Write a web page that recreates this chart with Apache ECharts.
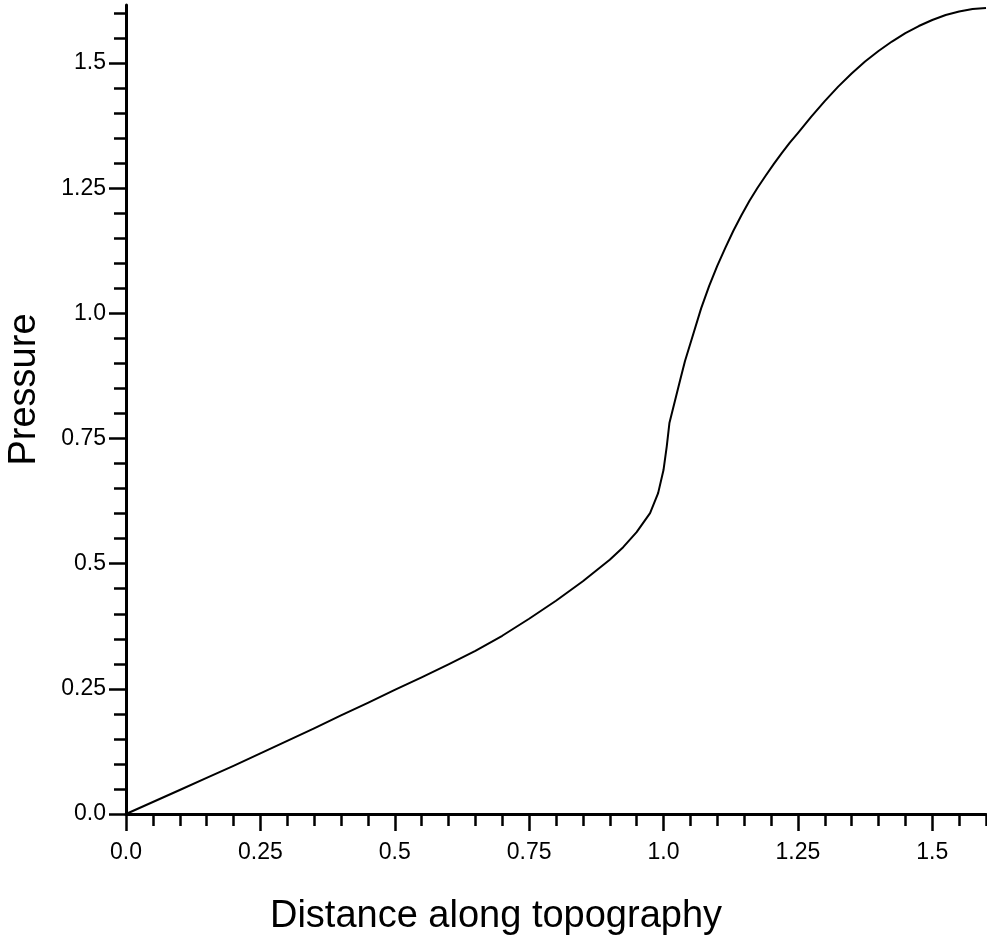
<!DOCTYPE html>
<html>
<head>
<meta charset="utf-8">
<script src="https://cdn.jsdelivr.net/npm/echarts@6/dist/echarts.min.js"></script>
<style>html,body{margin:0;padding:0;background:#fff}#c{width:987px;height:938px}</style>
</head>
<body>
<div id="c"></div>
<script>
// ---- data ----
const distance = [0, 0.05, 0.1, 0.15, 0.2, 0.25, 0.3, 0.35, 0.4, 0.45, 0.5, 0.55, 0.6, 0.65, 0.7, 0.75, 0.8, 0.85, 0.9, 0.925, 0.95, 0.975, 0.99, 1.0, 1.006, 1.011, 1.021, 1.031, 1.04, 1.05, 1.07, 1.085, 1.1, 1.115, 1.13, 1.145, 1.16, 1.175, 1.19, 1.205, 1.22, 1.235, 1.25, 1.275, 1.3, 1.325, 1.35, 1.375, 1.4, 1.425, 1.45, 1.475, 1.5, 1.525, 1.55, 1.575, 1.6];
const pressure = [0, 0.024, 0.048, 0.072, 0.096, 0.121, 0.146, 0.171, 0.197, 0.222, 0.248, 0.273, 0.299, 0.326, 0.356, 0.39, 0.426, 0.465, 0.508, 0.533, 0.563, 0.601, 0.641, 0.687, 0.734, 0.781, 0.824, 0.867, 0.905, 0.94, 1.01, 1.055, 1.095, 1.131, 1.165, 1.196, 1.225, 1.251, 1.275, 1.298, 1.32, 1.341, 1.36, 1.393, 1.424, 1.453, 1.479, 1.503, 1.524, 1.543, 1.56, 1.574, 1.586, 1.596, 1.603, 1.608, 1.61];
const xTickValues = [0, 0.25, 0.5, 0.75, 1.0, 1.25, 1.5];
const xTickLabels = ['0.0', '0.25', '0.5', '0.75', '1.0', '1.25', '1.5'];
const yTickValues = [0, 0.25, 0.5, 0.75, 1.0, 1.25, 1.5];
const yTickLabels = ['0.0', '0.25', '0.5', '0.75', '1.0', '1.25', '1.5'];
const xMinorTicks = [0,0.05,0.1,0.15,0.2,0.25,0.3,0.35,0.4,0.45,0.5,0.55,0.6,0.65,0.7,0.75,0.8,0.85,0.9,0.95,1.0,1.05,1.1,1.15,1.2,1.25,1.3,1.35,1.4,1.45,1.5,1.55,1.6];
const yMinorTicks = [0,0.05,0.1,0.15,0.2,0.25,0.3,0.35,0.4,0.45,0.5,0.55,0.6,0.65,0.7,0.75,0.8,0.85,0.9,0.95,1.0,1.05,1.1,1.15,1.2,1.25,1.3,1.35,1.4,1.45,1.5,1.55,1.6];
const xTitle = 'Distance along topography';
const yTitle = 'Pressure';

const FONT = "'Liberation Sans', Arial, Helvetica, sans-serif";
const X_MIN = 0, X_MAX = 1.6, Y_MIN = 0, Y_MAX = 1.616;

function labelFor(vals, labels) {
  return function (v) {
    for (let i = 0; i < vals.length; i++) if (Math.abs(vals[i] - v) < 1e-6) return labels[i];
    return '';
  };
}

const chart = echarts.init(document.getElementById('c'), null, {renderer: 'canvas'});
chart.setOption({
  animation: false,
  backgroundColor: '#ffffff',
  grid: {left: 126, right: 1, top: 5, bottom: 124, containLabel: false, outerBoundsMode: 'none'},
  xAxis: [
    {
      type: 'value', min: X_MIN, max: X_MAX, position: 'bottom',
      name: xTitle, nameLocation: 'middle', nameGap: 84,
      nameTextStyle: {fontFamily: FONT, fontSize: 38, color: '#000', padding: [0, 120, 0, 0]},
      axisLine: {show: true, onZero: false, lineStyle: {color: '#000', width: 3}},
      axisTick: {show: true, inside: false, length: 17, lineStyle: {color: '#000', width: 2.5}, customValues: xTickValues},
      axisLabel: {show: true, margin: 27, fontFamily: FONT, fontSize: 23, color: '#000', customValues: xTickValues, formatter: labelFor(xTickValues, xTickLabels)},
      splitLine: {show: false}
    },
    {
      type: 'value', min: X_MIN, max: X_MAX, position: 'bottom',
      axisLine: {show: false, onZero: false},
      axisTick: {show: true, inside: false, length: 12, lineStyle: {color: '#000', width: 2.5}, customValues: xMinorTicks},
      axisLabel: {show: false},
      splitLine: {show: false}
    }
  ],
  yAxis: [
    {
      type: 'value', min: Y_MIN, max: Y_MAX, position: 'left',
      name: yTitle, nameLocation: 'middle', nameGap: 82, nameRotate: 90,
      nameTextStyle: {fontFamily: FONT, fontSize: 38, color: '#000', padding: [0, 0, 0, 40]},
      axisLine: {show: true, onZero: false, lineStyle: {color: '#000', width: 3}},
      axisTick: {show: true, inside: false, length: 17, lineStyle: {color: '#000', width: 2.5}, customValues: yTickValues},
      axisLabel: {show: true, margin: 20, fontFamily: FONT, fontSize: 23, color: '#000', customValues: yTickValues, formatter: labelFor(yTickValues, yTickLabels)},
      splitLine: {show: false}
    },
    {
      type: 'value', min: Y_MIN, max: Y_MAX, position: 'left',
      axisLine: {show: false, onZero: false},
      axisTick: {show: true, inside: false, length: 12, lineStyle: {color: '#000', width: 2.5}, customValues: yMinorTicks},
      axisLabel: {show: false},
      splitLine: {show: false}
    }
  ],
  series: [{
    type: 'line',
    xAxisIndex: 0, yAxisIndex: 0,
    data: distance.map((d, i) => [d, pressure[i]]),
    showSymbol: false,
    smooth: false,
    clip: false,
    lineStyle: {color: '#000', width: 2, join: 'round'}
  }]
});
</script>
</body>
</html>
